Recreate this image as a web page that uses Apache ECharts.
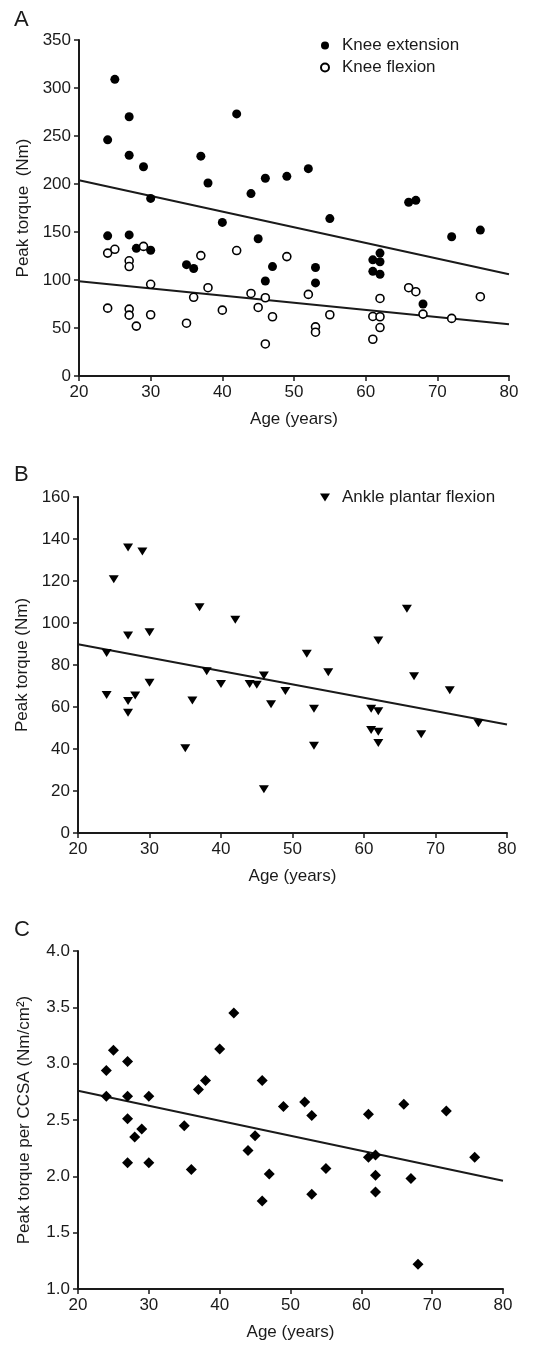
<!DOCTYPE html>
<html>
<head>
<meta charset="utf-8">
<script src="https://cdn.jsdelivr.net/npm/echarts@6/dist/echarts.min.js"></script>
<style>
  html, body { margin: 0; padding: 0; background: #fff; }
  #chart { width: 560px; height: 1346px; }
</style>
</head>
<body>
<div id="chart"></div>
<script>
// panel A - knee
var extAge = [24, 24, 25, 27, 27, 27, 28, 29, 30, 30, 35, 36, 37, 38, 40, 42, 44, 45, 46, 46, 47, 49, 52, 53, 53, 55, 61, 61, 62, 62, 62, 66, 67, 68, 72, 76];
var extTorque = [246, 146, 309, 270, 230, 147, 133, 218, 185, 131, 116, 112, 229, 201, 160, 273, 190, 143, 206, 99, 114, 208, 216, 113, 97, 164, 121, 109, 128, 119, 106, 181, 183, 75, 145, 152];
var flexAge = [24, 24, 25, 27, 27, 27, 27, 28, 29, 30, 30, 35, 36, 37, 38, 40, 42, 44, 45, 46, 46, 47, 49, 52, 53, 53, 55, 61, 61, 62, 62, 62, 66, 67, 68, 72, 76];
var flexTorque = [128, 70.7, 132, 120, 114, 69.7, 63.4, 52, 135, 95.5, 63.8, 55, 82, 125.4, 92, 68.6, 130.7, 86, 71.4, 81.5, 33.4, 61.7, 124.4, 85, 51.2, 45.6, 63.8, 62, 38.3, 80.8, 61.7, 50.5, 92, 87.8, 64.5, 60, 82.6];

// panel B - ankle
var ankleAge = [24, 24, 25, 27, 27, 27, 27, 28, 29, 30, 30, 35, 36, 37, 38, 40, 42, 44, 45, 46, 46, 47, 49, 52, 53, 53, 55, 61, 61, 62, 62, 62, 62, 66, 67, 68, 72, 76];
var ankleTorque = [85.7, 65.7, 120.8, 136, 94, 62.8, 57.3, 65.5, 134, 95.6, 71.5, 40.3, 63.1, 107.5, 77, 70.9, 101.5, 70.9, 70.6, 75, 20.8, 61.3, 67.6, 85.4, 59.2, 41.6, 76.5, 59.2, 49.1, 91.7, 58, 48.2, 42.8, 106.8, 74.6, 47, 68, 52.3];

// panel C - per CCSA
var ccsaAge = [24, 24, 25, 27, 27, 27, 27, 28, 29, 30, 30, 35, 36, 37, 38, 40, 42, 44, 45, 46, 46, 47, 49, 52, 53, 53, 55, 61, 61, 62, 62, 62, 66, 67, 68, 72, 76];
var ccsaValue = [2.94, 2.71, 3.12, 3.02, 2.71, 2.51, 2.12, 2.35, 2.42, 2.71, 2.12, 2.45, 2.06, 2.77, 2.85, 3.13, 3.45, 2.23, 2.36, 2.85, 1.78, 2.02, 2.62, 2.66, 2.54, 1.84, 2.07, 2.55, 2.17, 2.19, 2.01, 1.86, 2.64, 1.98, 1.22, 2.58, 2.17];

// regression lines (ends at age 20 and 80)
var fitAge = [20, 80];
var extFit = [204, 106];
var flexFit = [98.6, 54];
var ankleFit = [89.9, 51.7];
var ccsaFit = [2.76, 1.96];

var FONT = '"Liberation Sans", Arial, sans-serif';
var INK = '#1a1a1a';

function pairs(xs, ys) {
	var res = [];
	for (var i = 0; i < xs.length; i++) {
		res.push([xs[i], ys[i]]);
	}
	return res;
}

function xAx(gi) {
	return {
		gridIndex: gi, type: 'value', min: 20, max: 80, interval: 10,
		name: 'Age (years)', nameLocation: 'middle', nameGap: 35,
		nameTextStyle: { color: INK, fontSize: 17, fontFamily: FONT },
		axisLine: { lineStyle: { color: INK, width: 2 } },
		axisTick: { length: 5, lineStyle: { color: INK, width: 1.5 } },
		axisLabel: { color: INK, fontSize: 17, fontFamily: FONT, margin: 8 },
		splitLine: { show: false }
	};
}

function yAx(gi, name, min, max, step, fmt) {
	return {
		gridIndex: gi, type: 'value', min: min, max: max, interval: step,
		name: name, nameLocation: 'middle', nameGap: 45,
		nameTextStyle: { color: INK, fontSize: 17, fontFamily: FONT },
		axisLine: { show: true, lineStyle: { color: INK, width: 2 } },
		axisTick: { show: true, length: 5, lineStyle: { color: INK, width: 1.5 } },
		axisLabel: { color: INK, fontSize: 17, fontFamily: FONT, margin: 8, formatter: fmt },
		splitLine: { show: false }
	};
}

function fitLine(gi, ys) {
	return {
		type: 'line', xAxisIndex: gi, yAxisIndex: gi,
		data: pairs(fitAge, ys), symbol: 'none', silent: true,
		lineStyle: { color: INK, width: 2 }, z: 1
	};
}

var downTri = 'path://M0,0 L10,0 L5,8 Z';

var chart = echarts.init(document.getElementById('chart'));
chart.setOption({
	animation: false,
	backgroundColor: '#fff',
	title: [
		{ text: 'A', left: 14, top: 9, padding: 0, textStyle: { fontSize: 22, fontWeight: 'normal', color: INK, fontFamily: FONT } },
		{ text: 'B', left: 14, top: 464, padding: 0, textStyle: { fontSize: 22, fontWeight: 'normal', color: INK, fontFamily: FONT } },
		{ text: 'C', left: 14, top: 919, padding: 0, textStyle: { fontSize: 22, fontWeight: 'normal', color: INK, fontFamily: FONT } }
	],
	legend: [
		{
			data: ['Knee extension', 'Knee flexion'], orient: 'vertical',
			left: 320, top: 37, itemWidth: 24, itemHeight: 8, itemGap: 5, padding: 0,
			selectedMode: false,
			textStyle: { color: INK, fontSize: 17, fontFamily: FONT }
		},
		{
			data: ['Ankle plantar flexion'], orient: 'vertical',
			left: 320, top: 489, itemWidth: 24, itemHeight: 8, padding: 0,
			selectedMode: false,
			textStyle: { color: INK, fontSize: 17, fontFamily: FONT }
		}
	],
	grid: [
		{ left: 79, top: 40, width: 430, height: 336 },
		{ left: 78, top: 497, width: 429, height: 336 },
		{ left: 78, top: 951, width: 425, height: 338 }
	],
	xAxis: [xAx(0), xAx(1), xAx(2)],
	yAxis: [
		yAx(0, 'Peak torque  (Nm)', 0, 350, 50),
		yAx(1, 'Peak torque (Nm)', 0, 160, 20),
		yAx(2, 'Peak torque per CCSA (Nm/cm²)', 1, 4, 0.5, function (v) { return v.toFixed(1); })
	],
	series: [
		{
			name: 'Knee extension', type: 'scatter', xAxisIndex: 0, yAxisIndex: 0,
			data: pairs(extAge, extTorque), symbol: 'circle', symbolSize: 9,
			itemStyle: { color: '#000', opacity: 1 }, z: 3
		},
		{
			name: 'Knee flexion', type: 'scatter', xAxisIndex: 0, yAxisIndex: 0,
			data: pairs(flexAge, flexTorque), symbol: 'circle', symbolSize: 8,
			itemStyle: { color: '#fff', borderColor: '#000', borderWidth: 1.6, opacity: 1 }, z: 3
		},
		fitLine(0, extFit),
		fitLine(0, flexFit),
		{
			name: 'Ankle plantar flexion', type: 'scatter', xAxisIndex: 1, yAxisIndex: 1,
			data: pairs(ankleAge, ankleTorque), symbol: downTri, symbolSize: [10, 8],
			itemStyle: { color: '#000', opacity: 1 }, z: 3
		},
		fitLine(1, ankleFit),
		{
			name: 'Per CCSA', type: 'scatter', xAxisIndex: 2, yAxisIndex: 2,
			data: pairs(ccsaAge, ccsaValue), symbol: 'diamond', symbolSize: [11, 11],
			itemStyle: { color: '#000', opacity: 1 }, z: 3
		},
		fitLine(2, ccsaFit)
	]
});
window.onresize = chart.resize;
</script>
</body>
</html>
